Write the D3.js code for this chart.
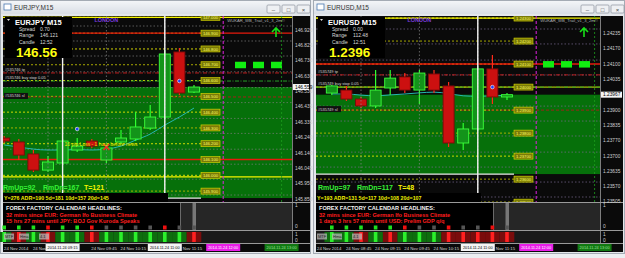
<!DOCTYPE html>
<html>
<head>
<meta charset="utf-8">
<script src="https://cdn.jsdelivr.net/npm/d3@7/dist/d3.min.js"></script>
<style>
  body { margin: 0; background: #eceef1; }
  svg { display: block; font-family: "Liberation Sans", Arial, sans-serif; }
</style>
</head>
<body>
<div id="chart"></div>
<script>
/** Page size. */
const WIDTH = 625;
const HEIGHT = 258;

// ---------- EURJPY M15 ----------
/** Candle open times. */
const jpyTimes = ["08:15", "08:30", "08:45", "09:00", "09:15", "09:30", "09:45",
  "10:00", "10:15", "10:30", "10:45", "11:00", "11:15", "11:30"];
/** Candles as [open, high, low, close]. */
const jpyCandles = [
  [146.236, 146.249, 146.204, 146.217],
  [146.211, 146.230, 146.097, 146.128],
  [146.135, 146.160, 146.021, 146.033],
  [146.033, 146.122, 146.021, 146.084],
  [146.078, 146.230, 146.065, 146.217],
  [146.160, 146.236, 146.147, 146.185],
  [146.217, 146.230, 146.173, 146.185],
  [146.097, 146.192, 146.078, 146.173],
  [146.211, 146.287, 146.198, 146.236],
  [146.230, 146.401, 146.217, 146.306],
  [146.299, 146.445, 146.287, 146.369],
  [146.369, 146.793, 146.356, 146.768],
  [146.781, 146.806, 146.508, 146.521],
  [146.527, 146.572, 146.521, 146.559]
];
/** Moving average under the candles. */
const jpyMA = [146.192, 146.179, 146.166, 146.160, 146.160, 146.163, 146.160,
  146.166, 146.185, 146.223, 146.261, 146.318, 146.369, 146.426];
/** Price axis labels. */
const jpyTicks = [146.920, 146.825, 146.730, 146.630, 146.530, 146.435, 146.335,
  146.240, 146.140, 146.045, 145.950, 145.850];
/** Round number levels with price tags. */
const jpyRounds = [147.0, 146.9, 146.8, 146.7, 146.6, 146.5, 146.4, 146.3, 146.2, 146.1, 146.0, 145.9];
const jpyRedLines = [146.9, 146.1];
const jpyYellowLines = [147.0, 145.99];
/** Pending order: tp, buy stop, sl. */
const jpyOrder = [146.648, 146.597, 146.496];
const jpyZoneLow = 145.856;
const jpyInfo = ["EURJPY", "M15", "0.70", "146.121", "12:52", "146.56"];
const jpyStats = ["RmUp=92", "RmDn=167", "T=121", "Y=276  ADR=190  5d=181  10d=157  20d=145"];
const jpyNews = ["32 mins since EUR: German Ifo Business Climate",
  "15 hrs 27 mins until JPY: BOJ Gov Kuroda Speaks"];
const jpyTimeLabels = ["08:45", "09:15", "09:45", "10:15", "10:45", "11:15"];
const jpyCursors = ["09:15", "11:00"];
const jpyNewsTime = "12:00";
const jpyEndTime = "13:00";
const jpyDots = [["09:30", 146.293], ["11:15", 146.597]];
const jpyCross = [["10:00", 146.179]];
/** Signal row (1 up, -1 down, 0 none) and strip colours per candle. */
const jpySignals = [1, 1, 1, -1, 1, 1, -1, 0, 0, 0, 0, -1, 0, 0];
const jpyStrip = [1, -1, 1, -1, 1, 1, -1, 1, 1, 1, 1, 1, 1, -1];

// ---------- EURUSD M15 ----------
const usdTimes = ["08:30", "08:45", "09:00", "09:15", "09:30", "09:45", "10:00",
  "10:15", "10:30", "10:45", "11:00", "11:15", "11:30"];
const usdCandles = [
  [1.23974, 1.24009, 1.23966, 1.24005],
  [1.23987, 1.24005, 1.23940, 1.23948],
  [1.23948, 1.23957, 1.23909, 1.23918],
  [1.23918, 1.24074, 1.23909, 1.23987],
  [1.23996, 1.24074, 1.23966, 1.24039],
  [1.24044, 1.24061, 1.23974, 1.23987],
  [1.23987, 1.24074, 1.23926, 1.24061],
  [1.24057, 1.24074, 1.23974, 1.23987],
  [1.24005, 1.24022, 1.23740, 1.23757],
  [1.23757, 1.23844, 1.23727, 1.23818],
  [1.23818, 1.24092, 1.23809, 1.24079],
  [1.24079, 1.24139, 1.23926, 1.23957],
  [1.23957, 1.23974, 1.23944, 1.23967]
];
const usdMA = [1.23970, 1.23970, 1.23965, 1.23962, 1.23966, 1.23970, 1.23975,
  1.23978, 1.23972, 1.23962, 1.23960, 1.23962, 1.23964];
const usdTicks = [1.24235, 1.24170, 1.24100, 1.24035, 1.23900, 1.23835, 1.23770,
  1.23700, 1.23635, 1.23570, 1.23505];
const usdRounds = [1.2430, 1.2420, 1.2410, 1.2400, 1.2390, 1.2380, 1.2370, 1.2360, 1.2350];
const usdRedLines = [1.2410];
const usdYellowLines = [1.2430, 1.2400];
const usdOrder = [1.24053, 1.2400, 1.2390];
const usdZoneLow = 1.23622;
const usdInfo = ["EURUSD", "M15", "0.00", "112.48", "12:51", "1.2396"];
const usdStats = ["RmUp=97", "RmDn=117", "T=48", "Y=193  ADR=131  5d=117  10d=108  20d=107"];
const usdNews = ["32 mins since EUR: German Ifo Business Climate",
  "1 days 3 hrs 57 mins until USD: Prelim GDP q/q"];
const usdTimeLabels = ["08:45", "09:15", "09:45", "10:15", "10:45", "11:15"];
const usdCursors = ["11:00"];
const usdNewsTime = "12:00";
const usdEndTime = "13:00";
const usdDots = [["11:15", 1.2400]];
const usdCross = [];
const usdSignals = [1, 1, 1, 1, 1, -1, 0, 0, -1, 0, 0, -1, 0];
const usdStrip = [1, 1, -1, 1, -1, 1, 1, 1, -1, -1, -1, -1, -1];

/** Shared layout of a terminal window. */
const TOP = 16;
const MAIN_BOTTOM = 202;
const SUB1 = [203, 230];
const SUB2 = [231, 243];
const TIME_BOTTOM = 252;
const GREEN_BG = "#06700a";
const GRID = "#8a8a8a";
const BOX_W = 34;
const LABEL_W = 25;
const TIME_FONT = 4.3;
const CURSOR_FONT = 3.9;

const parse = d3.timeParse("%Y-%m-%d %H:%M");
const t = (s) => parse("2014-11-24 " + s);
const fmtLabel = d3.timeFormat("%d %b %H:%M");
const fmtDay = d3.timeFormat("%d %b");
const fmtShort = d3.timeFormat("%b %H:%M");
const fmtCursor = d3.timeFormat("%Y.%m.%d %H:%M");

const svg = d3.select("#chart").append("svg")
    .attr("width", WIDTH)
    .attr("height", HEIGHT);

svg.append("rect")
    .attr("width", WIDTH)
    .attr("height", HEIGHT)
    .attr("fill", "#eceef1");

const grad = svg.append("defs").append("linearGradient")
    .attr("id", "titlebar").attr("x1", 0).attr("y1", 0).attr("x2", 0).attr("y2", 1);
grad.append("stop").attr("offset", "0%").attr("stop-color", "#f3f5f8");
grad.append("stop").attr("offset", "100%").attr("stop-color", "#d9dee5");

function drawWindow(c) {
    const g = svg.append("g");
    const PL = c.plotL, PR = c.plotR, AR = c.axisR;

    const x = d3.scaleTime()
        .domain([t(c.times[0]), t(c.times[c.times.length - 1])])
        .range(c.xRange);
    const y = d3.scaleLinear()
        .domain([c.ticks[c.ticks.length - 1], c.ticks[0]])
        .range(c.yRange);
    const xi = (i) => x(t(c.times[i]));
    const last = c.candles.length - 1;
    const lastX = xi(last);

    // Window frame and title bar
    g.append("rect")
        .attr("x", c.winL + 0.5).attr("y", 0.5)
        .attr("width", c.winR - c.winL - 1).attr("height", 253)
        .attr("fill", "#e4e7eb").attr("stroke", "#a4abb4");
    g.append("rect")
        .attr("x", c.winL + 1).attr("y", 1)
        .attr("width", c.winR - c.winL - 2).attr("height", 13)
        .attr("fill", "url(#titlebar)");
    g.append("rect")
        .attr("x", c.winL + 4).attr("y", 4)
        .attr("width", 7).attr("height", 6)
        .attr("fill", "#fff").attr("stroke", "#4a78b0").attr("stroke-width", 0.8);
    g.append("text")
        .attr("x", c.winL + 14).attr("y", 10)
        .attr("font-size", 6.5).attr("fill", "#333")
        .text(c.title);
    [-44, -29, -14].forEach((dx, k) => {
        g.append("rect")
            .attr("x", c.winR + dx).attr("y", 5)
            .attr("width", 13).attr("height", 8).attr("rx", 1)
            .attr("fill", "#eef0f3").attr("stroke", "#8d949d").attr("stroke-width", 0.7);
        g.append("text")
            .attr("x", c.winR + dx + 6.5).attr("y", 11.5)
            .attr("text-anchor", "middle").attr("font-size", 6).attr("fill", "#444")
            .text(["\u2013", "\u25a1", "\u00d7"][k]);
    });

    // Chart background
    g.append("rect")
        .attr("x", PL).attr("y", TOP)
        .attr("width", AR - PL).attr("height", TIME_BOTTOM - TOP)
        .attr("fill", "#0a0a0a");

    const clipId = "clip-" + c.id;
    g.append("clipPath").attr("id", clipId)
        .append("rect")
        .attr("x", PL).attr("y", TOP)
        .attr("width", PR - PL).attr("height", MAIN_BOTTOM - TOP);
    const plot = g.append("g").attr("clip-path", `url(#${clipId})`);

    // Green zone from current price down to the range low
    plot.append("rect")
        .attr("x", PL).attr("y", y(c.candles[last][3]))
        .attr("width", PR - PL)
        .attr("height", y(c.zoneLow) - y(c.candles[last][3]))
        .attr("fill", GREEN_BG);

    // Grid
    plot.selectAll(".hgrid")
        .data(c.ticks)
        .join("line")
        .attr("x1", PL).attr("x2", PR)
        .attr("y1", d => y(d) - 4).attr("y2", d => y(d) - 4)
        .attr("stroke", c.gridColor).attr("stroke-width", 0.7)
        .attr("stroke-dasharray", "1.5,2");

    // Round levels: dotted lead line + price tag
    const tagX = lastX + 7;
    plot.selectAll(".lvl")
        .data(c.rounds)
        .join("line")
        .attr("x1", PL).attr("x2", tagX)
        .attr("y1", d => y(d)).attr("y2", d => y(d))
        .attr("stroke", (d, i) => i % 2 ? "#b8b800" : "#e6e600")
        .attr("stroke-width", 0.9)
        .attr("stroke-dasharray", "2,2");

    // Range low marker line
    plot.append("line")
        .attr("x1", PL).attr("x2", tagX)
        .attr("y1", y(c.zoneLow)).attr("y2", y(c.zoneLow))
        .attr("stroke", "#e8e8e8").attr("stroke-width", 1.3);

    // Key support / resistance lines
    plot.selectAll(".red")
        .data(c.redLines)
        .join("line")
        .attr("x1", PL).attr("x2", PR)
        .attr("y1", d => y(d)).attr("y2", d => y(d))
        .attr("stroke", "#e81a0c").attr("stroke-width", 1.4);
    plot.selectAll(".yel")
        .data(c.yellowLines)
        .join("line")
        .attr("x1", PL).attr("x2", PR)
        .attr("y1", d => y(d)).attr("y2", d => y(d))
        .attr("stroke", (d, i) => i === 0 ? "#f4f400" : c.secondYellow)
        .attr("stroke-width", 1.3);

    // Pending order lines: tp, buy stop, sl
    const orderStyle = [["#d42020", "4,1.5,1,1.5"], ["#2bb02b", "4,1.5,1,1.5"], ["#b01818", "3,2"]];
    plot.selectAll(".ord")
        .data(c.order)
        .join("line")
        .attr("x1", PL).attr("x2", PR)
        .attr("y1", d => y(d)).attr("y2", d => y(d))
        .attr("stroke", (d, i) => orderStyle[i][0]).attr("stroke-width", 0.9)
        .attr("stroke-dasharray", (d, i) => orderStyle[i][1]);

    plot.selectAll(".tag")
        .data(c.rounds)
        .join("rect")
        .attr("x", tagX).attr("y", d => y(d) - 3)
        .attr("width", 19).attr("height", 6)
        .attr("fill", "#7a7a08").attr("stroke", "#e0e000").attr("stroke-width", 0.6);
    plot.selectAll(".tagtxt")
        .data(c.rounds)
        .join("text")
        .attr("x", tagX + 9.5).attr("y", d => y(d) + 1.6)
        .attr("text-anchor", "middle").attr("font-size", 4.2)
        .attr("fill", "#ffff60")
        .text(d => d.toFixed(c.digits));

    // Session / news vertical lines
    const hours = c.times.filter(s => s.endsWith(":00"));
    g.selectAll(".vgrid")
        .data(hours)
        .join("line")
        .attr("x1", d => x(t(d))).attr("x2", d => x(t(d)))
        .attr("y1", TOP).attr("y2", SUB2[1])
        .attr("stroke", GRID).attr("stroke-width", 0.7)
        .attr("stroke-dasharray", "1.5,2");
    g.append("line")
        .attr("x1", x(t(c.newsTime))).attr("x2", x(t(c.newsTime)))
        .attr("y1", TOP).attr("y2", SUB2[1])
        .attr("stroke", "#e020e0").attr("stroke-width", 1)
        .attr("stroke-dasharray", "3,2");
    g.append("line")
        .attr("x1", x(t(c.endTime))).attr("x2", x(t(c.endTime)))
        .attr("y1", TOP).attr("y2", SUB2[1])
        .attr("stroke", "#1e9e1e").attr("stroke-width", 0.8)
        .attr("stroke-dasharray", "2,2");

    // Moving average
    plot.append("path")
        .datum(c.ma)
        .attr("d", d3.line().x((d, i) => xi(i)).y(d => y(d)).curve(d3.curveMonotoneX))
        .attr("fill", "none").attr("stroke", "#25b8b0").attr("stroke-width", 1);

    // Candles
    const bull = (d) => d[3] >= d[0];
    plot.selectAll(".wick")
        .data(c.candles)
        .join("line")
        .attr("x1", (d, i) => xi(i)).attr("x2", (d, i) => xi(i))
        .attr("y1", d => y(d[1])).attr("y2", d => y(d[2]))
        .attr("stroke", d => bull(d) ? "#30ff30" : "#ff2a1a").attr("stroke-width", 1.2);
    plot.selectAll(".body")
        .data(c.candles)
        .join("rect")
        .attr("x", (d, i) => xi(i) - 5.5).attr("width", 11)
        .attr("y", d => y(Math.max(d[0], d[3])))
        .attr("height", d => Math.max(1.5, Math.abs(y(d[0]) - y(d[3]))))
        .attr("fill", d => bull(d) ? "#13941a" : "#cc1010")
        .attr("stroke", d => bull(d) ? "#3cff3c" : "#7a0a0a").attr("stroke-width", 0.9);

    // Markers
    plot.selectAll(".dot")
        .data(c.dots)
        .join("circle")
        .attr("cx", d => x(t(d[0]))).attr("cy", d => y(d[1])).attr("r", 1.8)
        .attr("fill", "#2040ff").attr("stroke", "#fff").attr("stroke-width", 0.6);
    plot.selectAll(".cross")
        .data(c.cross)
        .join("path")
        .attr("d", d => {
            const cx = x(t(d[0])), cy = y(d[1]);
            return `M${cx - 3},${cy - 3}L${cx + 3},${cy + 3}M${cx + 3},${cy - 3}L${cx - 3},${cy + 3}`;
        })
        .attr("stroke", "#ff2020").attr("stroke-width", 1.6);

    // Trend boxes and arrow near the right edge
    [0, 1, 2].forEach(k => {
        plot.append("rect")
            .attr("x", PR - 57 + k * 18).attr("y", y(c.trendLevel) - 3)
            .attr("width", 11).attr("height", 6.5)
            .attr("fill", "#11ee11");
    });
    plot.append("path")
        .attr("d", `M${PR - 16},28 l0,9 M${PR - 20},32 l4,-4 l4,4`)
        .attr("fill", "none").attr("stroke", "#18e018").attr("stroke-width", 1.6);

    // Cursor lines
    g.selectAll(".cursor")
        .data(c.cursors)
        .join("line")
        .attr("x1", d => x(t(d))).attr("x2", d => x(t(d)))
        .attr("y1", TOP).attr("y2", SUB2[1])
        .attr("stroke", "#f4f4f4").attr("stroke-width", 1.4);

    // Text overlays
    g.append("text")
        .attr("x", x(t(c.londonTime))).attr("y", 22)
        .attr("text-anchor", "middle").attr("font-size", 5.5).attr("font-weight", "bold")
        .attr("fill", "#7a3cdc").text("LONDON");
    g.append("text")
        .attr("x", x(t(c.newsTime)) + 4).attr("y", 22)
        .attr("font-size", 4.2).attr("fill", "#b0b0b0")
        .text("WUKAR_WB_Trail_v1_3_2m\u00a9");

    const ordLbl = [c.ticket + " tp", c.ticket + " buy stop 0.05", c.ticket + " sl"];
    c.order.forEach((p, i) => {
        const ty = y(p) - (i === 2 ? -0.5 : 2);
        if (i === 2) {
            g.append("rect")
                .attr("x", PL + 1).attr("y", ty - 4.5)
                .attr("width", 24).attr("height", 6)
                .attr("fill", "#111");
        }
        g.append("text")
            .attr("x", PL + 2).attr("y", ty)
            .attr("font-size", 4).attr("fill", "#d8d8d8")
            .text(ordLbl[i]);
    });

    if (c.note) {
        g.append("text")
            .attr("x", x(t(c.cursors[0])) + 2).attr("y", y(c.note[1]))
            .attr("font-size", 5).attr("fill", "#e8e800")
            .text(c.note[0]);
    }

    // Info panel
    const ib = g.append("g").attr("transform", `translate(${PL + 2},17)`);
    ib.append("rect").attr("width", 67).attr("height", 41).attr("fill", "#000");
    ib.append("path").attr("d", "M2,2 l3,0 l-1.5,2 z").attr("fill", "#ddd");
    ib.append("text").attr("x", 10).attr("y", 7.5)
        .attr("font-size", 7.5).attr("font-weight", "bold").attr("fill", "#fff")
        .text(c.info[0] + "  " + c.info[1]);
    ["Spread", "Range", "Candle"].forEach((lbl, k) => {
        ib.append("text").attr("x", 14).attr("y", 14 + k * 6.3)
            .attr("font-size", 5).attr("fill", "#d8d8d8").text(lbl);
        ib.append("text").attr("x", 35).attr("y", 14 + k * 6.3)
            .attr("font-size", 5).attr("fill", "#d8d8d8").text(c.info[2 + k]);
    });
    ib.append("text").attr("x", 11).attr("y", 39.5)
        .attr("font-size", 13.5).attr("font-weight", "bold").attr("fill", "#ffff10")
        .text(c.info[5]);

    // Range stats
    const st = c.statsX;
    [0, 1, 2].forEach(k => {
        g.append("text")
            .attr("x", PL + st[k]).attr("y", 190)
            .attr("font-size", 7).attr("font-weight", "bold")
            .attr("fill", k === 2 ? "#f6f600" : "#36f036")
            .text(c.stats[k]);
    });
    g.append("rect")
        .attr("x", PL).attr("y", 193)
        .attr("width", 165).attr("height", 9)
        .attr("fill", "#000");
    g.append("text")
        .attr("x", PL + 1).attr("y", 200)
        .attr("font-size", 5.3).attr("font-weight", "bold").attr("fill", "#f0f000")
        .text(c.stats[3]);

    // Sub window 1: calendar headlines
    g.append("rect")
        .attr("x", PL).attr("y", SUB1[0])
        .attr("width", PR - PL).attr("height", SUB1[1] - SUB1[0])
        .attr("fill", "#262626");
    g.append("rect")
        .attr("x", PL).attr("y", SUB1[0])
        .attr("width", lastX - 13 - PL).attr("height", SUB1[1] - SUB1[0])
        .attr("fill", "#000");
    g.append("rect")
        .attr("x", lastX - 14).attr("y", SUB1[0])
        .attr("width", 1).attr("height", SUB1[1] - SUB1[0])
        .attr("fill", "#6a6a6a");
    g.append("rect")
        .attr("x", lastX - 1.5).attr("y", SUB1[0])
        .attr("width", 3.5).attr("height", SUB1[1] - SUB1[0])
        .attr("fill", "#777");
    g.append("text")
        .attr("x", PL + 3).attr("y", 210)
        .attr("font-size", 5.6).attr("font-weight", "bold").attr("fill", "#f4f4f4")
        .text("FOREX FACTORY CALENDAR  HEADLINES:");
    c.news.forEach((s, k) => {
        g.append("text")
            .attr("x", PL + 3).attr("y", 216.5 + k * 6)
            .attr("font-size", 5.6).attr("font-weight", "bold").attr("fill", "#ff1e1e")
            .text(s);
    });
    g.selectAll(".sig")
        .data(c.signals)
        .join("rect")
        .attr("x", (d, i) => xi(i) - 1.8).attr("y", 225.5)
        .attr("width", 3.6).attr("height", 4)
        .attr("fill", d => d > 0 ? "#1ee01e" : d < 0 ? "#ee1010" : "#555");

    // Sub window 2: multi-timeframe strip
    g.append("rect")
        .attr("x", PL).attr("y", SUB2[0])
        .attr("width", PR - PL).attr("height", SUB2[1] - SUB2[0])
        .attr("fill", "#1a1a1a");
    g.selectAll(".strip")
        .data(c.strip)
        .join("rect")
        .attr("x", (d, i) => xi(i) - 7.3).attr("y", SUB2[0] + 1)
        .attr("width", 14.6).attr("height", SUB2[1] - SUB2[0] - 2)
        .attr("fill", d => d > 0 ? "#0e6e0e" : "#7a0c0c");
    g.selectAll(".stripHi")
        .data(c.strip)
        .join("rect")
        .attr("x", (d, i) => xi(i) - 1.8).attr("y", SUB2[0] + 1)
        .attr("width", 3.6).attr("height", SUB2[1] - SUB2[0] - 2)
        .attr("fill", d => d > 0 ? "#2cf02c" : "#ff2020");
    [[PL + 1, "MTF"], [PL + 16, "Hma"], [PL + 36, "4.1"]].forEach(([lx, s]) => {
        g.append("rect").attr("x", lx).attr("y", SUB2[0] + 2.5)
            .attr("width", 10).attr("height", 6).attr("fill", "#b8b8b8").attr("opacity", 0.75);
        g.append("text").attr("x", lx + 1).attr("y", SUB2[0] + 7.3)
            .attr("font-size", 4).attr("fill", "#222").text(s);
    });

    // Panel separators
    [MAIN_BOTTOM + 0.5, SUB1[1] + 0.5, SUB2[1] + 0.5].forEach(yy => {
        g.append("line")
            .attr("x1", PL).attr("x2", AR)
            .attr("y1", yy).attr("y2", yy)
            .attr("stroke", "#9a9a9a").attr("stroke-width", 1.2);
    });
    g.append("line")
        .attr("x1", PR + 0.5).attr("x2", PR + 0.5)
        .attr("y1", TOP).attr("y2", SUB2[1])
        .attr("stroke", "#9a9a9a").attr("stroke-width", 0.8);

    // Price axis
    g.selectAll(".ptick")
        .data(c.ticks)
        .join("text")
        .attr("x", PR + 3).attr("y", d => y(d) + 1.8)
        .attr("font-size", 4.8).attr("fill", "#d0d0d0")
        .text(d => d.toFixed(c.digits));
    const cp = c.candles[last][3];
    g.append("rect")
        .attr("x", PR + 1).attr("y", y(cp) - 3)
        .attr("width", AR - PR - 2).attr("height", 6)
        .attr("fill", "#f4f4f4");
    g.append("text")
        .attr("x", PR + 3).attr("y", y(cp) + 1.8)
        .attr("font-size", 4.8).attr("fill", "#000")
        .text(cp.toFixed(c.digits));
    [[207, "1"], [228, "0"], [235.5, "1"], [241.5, "0"]].forEach(([yy, s]) => {
        g.append("text").attr("x", PR + 3).attr("y", yy)
            .attr("font-size", 4.8).attr("fill", "#d0d0d0").text(s);
    });

    // Time axis: cursor boxes hide the labels they cover
    const boxes = c.cursors.map(s => [s, "#f4f4f4", "#000"])
        .concat([[c.newsTime, "#e81ee8", "#fff"], [c.endTime, "#127812", "#9ae09a"]]);
    const spans = boxes.map(b => [x(t(b[0])) - BOX_W / 2, x(t(b[0])) + BOX_W / 2]);
    const labels = [];
    c.timeLabels.forEach(s => {
        const lx = x(t(s)) - 0.5;
        const hit = spans.find(([a, b]) => lx >= a - 2 && lx <= b);
        const next = spans.find(([a]) => a > lx && lx + LABEL_W > a);
        if (!hit && !next) labels.push([lx, fmtLabel(t(s))]);
        else if (!hit) labels.push([lx, fmtDay(t(s))]);
        else if (hit[1] - lx < 6) labels.push([hit[1] + 1, fmtShort(t(s))]);
    });
    g.append("text")
        .attr("x", PL + 1).attr("y", 249.5)
        .attr("font-size", TIME_FONT).attr("fill", "#d8d8d8")
        .text("24 Nov 2014");
    g.selectAll(".ttick")
        .data(labels)
        .join("text")
        .attr("x", d => d[0]).attr("y", 249.5)
        .attr("font-size", TIME_FONT).attr("fill", "#d8d8d8")
        .text(d => d[1]);
    boxes.forEach(([s, fill, ink]) => {
        const cx = x(t(s));
        g.append("rect")
            .attr("x", cx - BOX_W / 2).attr("y", 244)
            .attr("width", BOX_W).attr("height", 7)
            .attr("fill", fill);
        g.append("text")
            .attr("x", cx).attr("y", 249.3)
            .attr("text-anchor", "middle").attr("font-size", CURSOR_FONT).attr("fill", ink)
            .text(fmtCursor(t(s)));
    });
}

drawWindow({
    id: "jpy", title: "EURJPY,M15", winL: 0, winR: 311,
    plotL: 3, plotR: 292, axisR: 310,
    xRange: [4.2, 194], yRange: [199, 30], digits: 3,
    times: jpyTimes, candles: jpyCandles, ma: jpyMA, ticks: jpyTicks,
    rounds: jpyRounds, redLines: jpyRedLines, yellowLines: jpyYellowLines,
    secondYellow: "#f4f400", order: jpyOrder, zoneLow: jpyZoneLow,
    info: jpyInfo, stats: jpyStats, statsX: [0, 40, 81], news: jpyNews,
    timeLabels: jpyTimeLabels, cursors: jpyCursors, newsTime: jpyNewsTime,
    endTime: jpyEndTime, londonTime: "10:00", dots: jpyDots, cross: jpyCross,
    signals: jpySignals, strip: jpyStrip, trendLevel: 146.7, ticket: "#535746",
    gridColor: "#7c7c7c", note: ["10 pip Loss - 1 hour before news", 146.185]
});

drawWindow({
    id: "usd", title: "EURUSD,M15", winL: 313, winR: 625,
    plotL: 316, plotR: 600, axisR: 623,
    xRange: [331.8, 507], yRange: [201, 33], digits: 5,
    times: usdTimes, candles: usdCandles, ma: usdMA, ticks: usdTicks,
    rounds: usdRounds, redLines: usdRedLines, yellowLines: usdYellowLines,
    secondYellow: "#b4b400", order: usdOrder, zoneLow: usdZoneLow,
    info: usdInfo, stats: usdStats, statsX: [2, 41, 82], news: usdNews,
    timeLabels: usdTimeLabels, cursors: usdCursors, newsTime: usdNewsTime,
    endTime: usdEndTime, londonTime: "10:00", dots: usdDots, cross: usdCross,
    signals: usdSignals, strip: usdStrip, trendLevel: 1.2410, ticket: "#535749",
    gridColor: "#7a6a90", note: null
});
</script>
</body>
</html>
